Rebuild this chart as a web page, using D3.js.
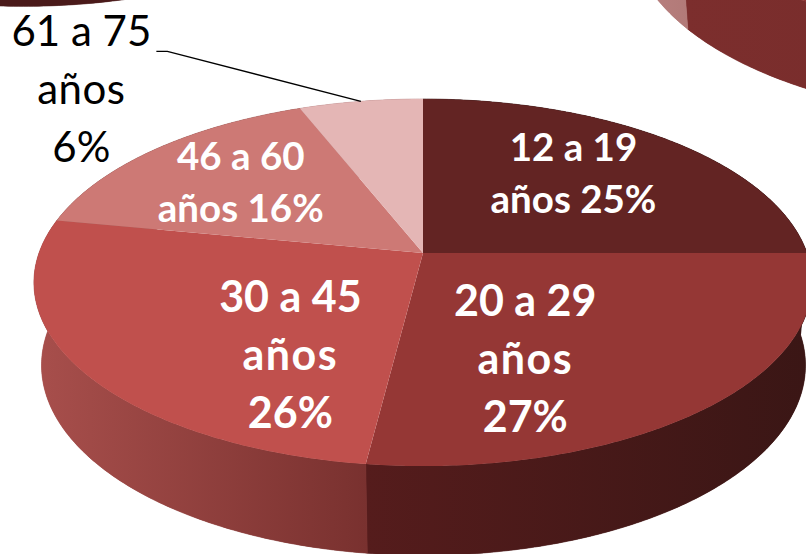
<!DOCTYPE html>
<html><head><meta charset="utf-8">
<script src="https://cdn.jsdelivr.net/npm/d3@7"></script>
<style>html,body{margin:0;padding:0;background:#fff;overflow:hidden}svg{display:block}text{font-family:Lato,"Liberation Sans",sans-serif}</style>
</head><body><svg id="c" width="806" height="554"></svg>
<script>
// ---- data ----
const categories = ["12 a 19 años","20 a 29 años","30 a 45 años","46 a 60 años","61 a 75 años"];
const values = [25,27,26,16,6];
const labelLines = [["12 a 19","años 25%"],["20 a 29","años","27%"],["30 a 45","años","26%"],["46 a 60","años 16%"],["61 a 75","años","6%"]];
const topColors = ["#632423","#953735","#c0504d","#cd7975","#e4b6b5"];
const sideFrom = ["#3a1615","#551c1c","#a84f4c","#a0605c","#c09090"];
const sideTo   = ["#3a1615","#3a1615","#79312f","#a0605c","#c09090"];
// neighbouring pies cropped by the picture edge
const rightPieValues = [64,36];
const rightPieTop = ["#8f3535","#c98a88"];
const rightPieFrom = ["#7c2e2d","#bb8282"];
const rightPieTo = ["#6f2a29","#b27a78"];
const leftPieValues = [100];
const leftPieTop = ["#953735"];
const leftPieFrom = ["#4a1a1a"];
const leftPieTo = ["#4a1a1a"];
const labelFraction = [.6,.6,.6,.6,1];
const labelNudgeX = [-2,-62,65,-15,-279.5];
const labelNudgeY = [-8,19,35,-6,-12];
const labelSize = [38.5,43,43,38.5,42];
const labelGap = [52,58,58,52,58];
const labelWeight = [700,700,700,700,400];
const labelFill = ["#fff","#fff","#fff","#fff","#000"];
const wordTracking = [0,1.5,1.5,0,.5];

// ---- geometry: circular disc seen in perspective ----
const P = .161;
const topDisc = {cx:423, cy:253, R:384, k:178.8};
const baseDisc = {cx:423.5, cy:334.7, R:377, k:185.1};
function proj(d, a, f=1, ox=0, oy=0){
  const X = Math.sin(a)*f, Y = -Math.cos(a)*f, w = 1/(1-P*Y);
  return [d.cx + d.R*X*w + ox, d.cy + d.k*Y*w + oy];
}
const svg = d3.select("#c");
const defs = svg.append("defs");
const line = d3.line();
const pieGen = d3.pie().sort(null).value(d=>d);
let gid = 0;

function drawPie(vals, tops, from, to, ox, oy){
  const arcs = pieGen(vals);
  const g = svg.append("g");
  arcs.forEach((s,i)=>{
    const n = Math.max(8, Math.ceil((s.endAngle-s.startAngle)*90));
    const as = d3.range(n+1).map(j=>s.startAngle+(s.endAngle-s.startAngle)*j/n);
    const t = as.map(a=>proj(topDisc,a,1,ox,oy));
    const b = as.map(a=>proj(baseDisc,a,1,ox,oy));
    const front = as.filter(a=>Math.cos(a)<0.2);
    const xs = (front.length?front:as).flatMap(a=>[proj(topDisc,a,1,ox,oy)[0],proj(baseDisc,a,1,ox,oy)[0]]);
    const id = "sg"+(gid++);
    const lg = defs.append("linearGradient").attr("id",id).attr("gradientUnits","userSpaceOnUse")
      .attr("x1",d3.min(xs)).attr("x2",d3.max(xs)).attr("y1",0).attr("y2",0);
    lg.append("stop").attr("offset",0).attr("stop-color",from[i]);
    lg.append("stop").attr("offset",1).attr("stop-color",to[i]);
    g.append("path").attr("fill",`url(#${id})`).attr("stroke",`url(#${id})`).attr("stroke-width",.6)
      .attr("d",line(t.concat(b.slice().reverse()))+"Z");
    const tail = d3.range(n).map(j=>line([t[j],t[j+1],b[j+1],b[j]])+"Z").join("");
    g.append("path").attr("fill",`url(#${id})`).attr("d",tail);
  });
  arcs.forEach((s,i)=>{
    const n = Math.max(8, Math.ceil((s.endAngle-s.startAngle)*90));
    const pts = [proj(topDisc,0,0,ox,oy)].concat(d3.range(n+1).map(j=>proj(topDisc,s.startAngle+(s.endAngle-s.startAngle)*j/n,1,ox,oy)));
    g.append("path").attr("fill",tops[i]).attr("d",line(pts)+"Z");
  });
  return arcs;
}

drawPie(leftPieValues,leftPieTop,leftPieFrom,leftPieTo,-400,-549);
drawPie(rightPieValues,rightPieTop,rightPieFrom,rightPieTo,588,-437);
const arcs = drawPie(values,topColors,sideFrom,sideTo,0,0);

// labels
arcs.forEach((s,i)=>{
  const mid = (s.startAngle+s.endAngle)/2;
  const [px,py] = proj(topDisc,mid,labelFraction[i]);
  const x = px+labelNudgeX[i], y = py+labelNudgeY[i];
  const L = labelLines[i];
  svg.append("g").selectAll("text").data(L).join("text")
    .attr("x",x).attr("y",(d,j)=>y+(j-(L.length-1)/2)*labelGap[i]+.35*labelSize[i])
    .attr("text-anchor","middle").attr("font-size",labelSize[i]).attr("font-weight",labelWeight[i])
    .attr("letter-spacing",d=>d==="años"?wordTracking[i]:0)
    .attr("fill",labelFill[i]).text(d=>d);
  if(labelFill[i]==="#000"){
    const rim = proj(topDisc,mid,1);
    const elbowY = y + (0-(L.length-1)/2)*labelGap[i] + 20;
    svg.append("path").attr("fill","none").attr("stroke","#000").attr("stroke-width",1.4)
      .attr("d",line([[x+75,elbowY],[x+86,elbowY],rim]));
  }
});
</script></body></html>
